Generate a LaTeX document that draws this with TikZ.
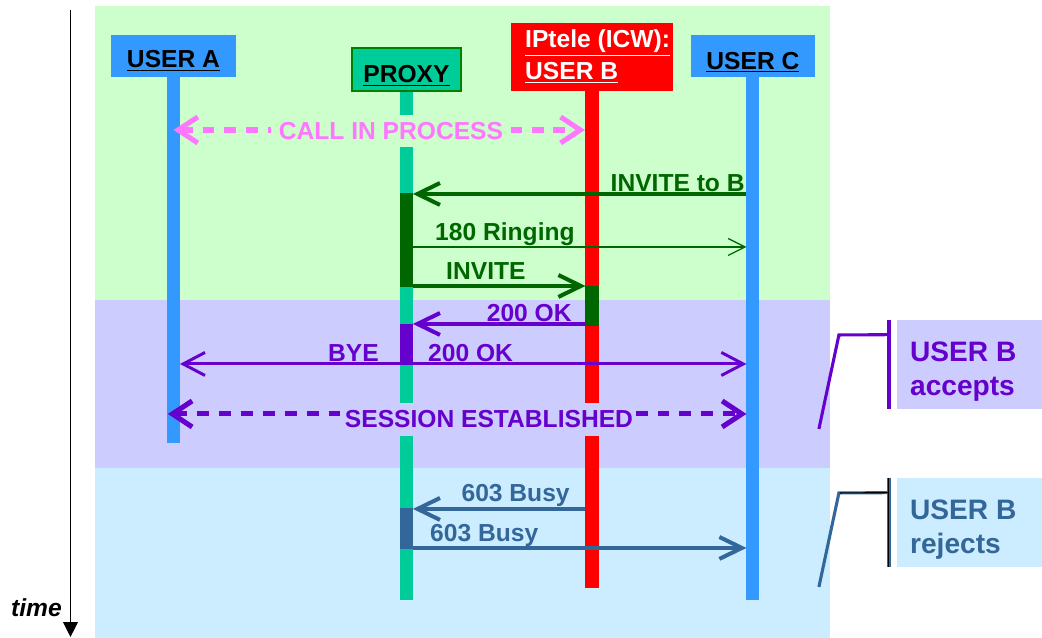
\documentclass[tikz,border=0pt]{standalone}
\usepackage{fontspec}
\setmainfont{Liberation Sans}
\usetikzlibrary{arrows.meta,positioning,calc}

\definecolor{bandgreen}{HTML}{CCFFCC}
\definecolor{bandpurple}{HTML}{CCCCFF}
\definecolor{bandblue}{HTML}{CCECFF}
\definecolor{userblue}{HTML}{3399FF}
\definecolor{proxygreen}{HTML}{00CC99}
\definecolor{msggreen}{HTML}{006600}
\definecolor{msgpurple}{HTML}{6600CC}
\definecolor{msgsteel}{HTML}{336699}
\definecolor{msgpink}{HTML}{FF77FF}

\begin{document}
\begin{tikzpicture}[
    x=0.025cm, y=-0.025cm,
    hdr/.style={rectangle, align=left, inner sep=0pt, text depth=0pt, font=\fontsize{17.5}{22.8}\selectfont\bfseries},
    life/.style={line width=9.25pt},
    lbl/.style={inner sep=0pt, font=\fontsize{17.5}{20}\selectfont\bfseries},
    msg/.style={line width=2.85pt, -{Straight Barb[length=16pt,width=15.6pt]}, shorten <=4.6pt, shorten >=4.6pt},
    thinmsg/.style={line width=0.9pt, -{Straight Barb[length=12pt,width=12pt]}, shorten <=4.6pt, shorten >=4.6pt},
    midmsg/.style={line width=2.1pt, -{Straight Barb[length=15.6pt,width=16.4pt]}, shorten <=4.6pt, shorten >=4.6pt},
    dashmsg/.style={line width=3.6pt, {Straight Barb[length=14pt,width=18.5pt]}-{Straight Barb[length=14pt,width=18.5pt]}, dash pattern=on 8.5pt off 7.1pt},
    note/.style={rectangle, anchor=west, minimum width=103pt, minimum height=63.3pt},
    notetext/.style={anchor=west, align=left, inner sep=0pt, font=\fontsize{20}{24.2}\selectfont\bfseries}
]
    % bands
    \fill[bandgreen] (95,6) rectangle (830,300);
    \fill[bandpurple] (95,300) rectangle (830,468);
    \fill[bandblue] (95,468) rectangle (830,638);

    % time axis
    \coordinate (t0) at (70.5,10);
    \coordinate (t1) at (70.5,637);
    \draw[line width=0.8pt, -{Triangle[length=10.5pt,width=10.5pt]}] (t0) -- (t1);
    \node[lbl, anchor=base east, font=\fontsize{17.5}{20}\selectfont\bfseries\itshape] (time) at (62,617) {time};

    % headers
    \node[hdr, fill=userblue, text height=17pt, minimum width=88.9pt, minimum height=29.9pt] (ua) at (173.5,56) {\underline{USER A}};
    \node[hdr, fill=proxygreen, draw=green!50!black, line width=0.8pt, text height=19.2pt, minimum width=77.5pt, minimum height=30.6pt] (px) at (406.5,69.5) {\underline{PROXY}};
    \node[hdr, fill=red, minimum width=115.2pt, minimum height=48.4pt] (ub) at (592,57) {};
    \node[lbl, text=white, anchor=base west] (ubt1) at (525,48) {\underline{IPtele (ICW):}};
    \node[lbl, text=white, anchor=base west] (ubt2) at (525,80) {\underline{USER B}};
    \node[hdr, fill=userblue, text height=18.5pt, minimum width=88.2pt, minimum height=29.9pt] (uc) at (753,56) {\underline{USER C}};

    % lifelines
    \draw[life, userblue] (ua.south) -- (ua |- 0,443);
    \draw[life, proxygreen] (px.south) -- (px |- 0,600);
    \draw[life, red, line width=10pt] (ub.south) -- (ub |- 0,588);
    \draw[life, userblue] (uc.south) -- (uc |- 0,600);

    % activations
    \draw[life, msggreen] (px |- 0,193) -- (px |- 0,287);
    \draw[life, msggreen, line width=10pt] (ub |- 0,286) -- (ub |- 0,326);
    \draw[life, msgpurple] (px |- 0,324) -- (px |- 0,365);
    \draw[life, msgsteel] (px |- 0,508) -- (px |- 0,549);

    % call in process
    \draw[dashmsg, msgpink, shorten >=5pt] (ua |- 0,130) -- (ub |- 0,130);
    \node[lbl, text=msgpink, fill=bandgreen, inner xsep=5.3pt, minimum height=22.8pt] (cip) at (391,131) {CALL IN PROCESS};

    % invite sequence
    \draw[msg, msggreen] (uc |- 0,194) -- (px |- 0,194);
    \node[lbl, text=msggreen, anchor=base east] (inv1) at (745,192) {INVITE to B};
    \draw[thinmsg, msggreen] (px |- 0,247) -- (uc |- 0,247);
    \node[lbl, text=msggreen, anchor=base west] (ring) at (435,241) {180 Ringing};
    \draw[msg, msggreen] (px |- 0,286) -- (ub |- 0,286);
    \node[lbl, text=msggreen, anchor=base west] (inv2) at (446,280) {INVITE};

    % accept
    \draw[msg, msgpurple] (ub |- 0,324) -- (px |- 0,324);
    \node[lbl, text=msgpurple, anchor=base east] (ok1) at (572,322) {200 OK};
    \draw[midmsg, msgpurple] (px |- 0,364) -- (ua |- 0,364);
    \node[lbl, text=msgpurple, anchor=base east] (bye) at (379,362) {BYE};
    \draw[midmsg, msgpurple] (px |- 0,364) -- (uc |- 0,364);
    \node[lbl, text=msgpurple, anchor=base west] (ok2) at (428,362) {200 OK};
    \draw[dashmsg, msgpurple, shorten <=-4pt, shorten >=4.6pt] (ua |- 0,414) -- (uc |- 0,414);
    \node[lbl, text=msgpurple, fill=bandpurple, inner xsep=2pt, minimum height=23.5pt] (sess) at (489,419.5) {SESSION ESTABLISHED};

    % reject
    \draw[msg, msgsteel] (ub |- 0,509) -- (px |- 0,509);
    \node[lbl, text=msgsteel, anchor=base east] (busy1) at (570,502) {603 Busy};
    \draw[msg, msgsteel] (px |- 0,548) -- (uc |- 0,548);
    \node[lbl, text=msgsteel, anchor=base west] (busy2) at (430,542) {603 Busy};

    % outcome notes
    \node[note, fill=bandpurple] (acc) at (897,364.5) {};
    \node[notetext, text=msgpurple, right=9.2pt of acc.west, yshift=-5pt] (acct) {USER B\\accepts};
    \node[note, fill=bandblue] (rej) at (897,522.5) {};
    \node[notetext, text=msgsteel, right=9.2pt of rej.west, yshift=-5pt] (rejt) {USER B\\rejects};
    \coordinate (accend) at (819,429);
    \coordinate (rejend) at (819,587);
    \draw[msgpurple, line width=3pt] ($(acc.north west)+(-8,0)$) -- ($(acc.south west)+(-8,0)$);
    \draw[msgpurple, line width=2.2pt] ($(acc.north west)+(-8,15)$) -- (839,335) -- (accend);
    \draw[msgsteel, line width=3pt] ($(rej.north west)+(-8,0)$) -- ($(rej.south west)+(-8,0)$);
    \draw[msgsteel, line width=2.2pt] ($(rej.north west)+(-8,15)$) -- (839,493) -- (rejend);
    \draw[black, line width=0.8pt] ($(rej.north west)+(-8,0)$) -- ($(rej.south west)+(-8,0)$);
    \draw[black, line width=0.8pt] ($(rej.north west)+(-8,15)$) -- (840,493);

    \useasboundingbox (0,0) rectangle (1042,638);
\end{tikzpicture}
\end{document}
